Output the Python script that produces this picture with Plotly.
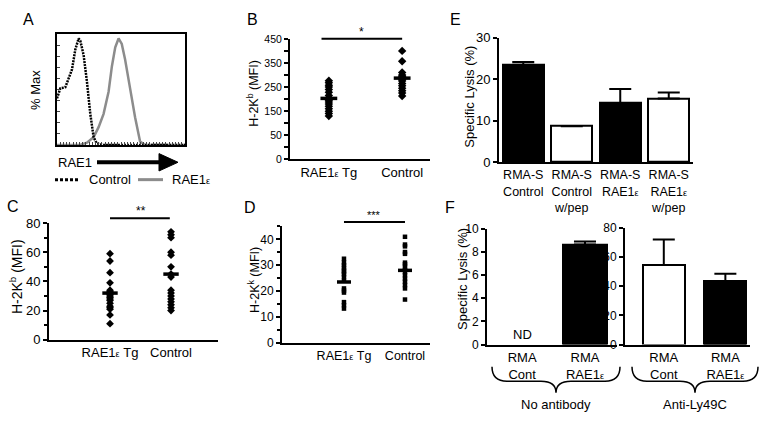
import plotly.graph_objects as go

W, H = 762, 423
FONT = "Liberation Sans, Arial, sans-serif"

# ---------------- data ----------------
# Panel A histogram (x = fraction of log-fluorescence range, y = % of max)
A_CONTROL_X = [0, 0.026, 0.065, 0.09, 0.117, 0.143, 0.169, 0.182, 0.195, 0.208, 0.234, 0.26, 0.286, 0.31, 0.36, 1.0]
A_CONTROL_Y = [0.42, 0.51, 0.52, 0.59, 0.68, 0.86, 0.96, 0.94, 0.88, 0.81, 0.57, 0.28, 0.07, 0.015, 0, 0]
A_RAE_X = [0, 0.18, 0.234, 0.286, 0.325, 0.364, 0.403, 0.429, 0.455, 0.481, 0.506, 0.532, 0.571, 0.61, 0.649, 0.688, 1.0]
A_RAE_Y = [0, 0, 0.02, 0.07, 0.16, 0.28, 0.48, 0.71, 0.88, 0.96, 0.91, 0.77, 0.51, 0.25, 0.03, 0, 0]

EPS = '<span style="font-size:9px">ε</span>'
GROUPS = ["RAE1" + EPS + " Tg", "Control"]

# Panel B  H-2Kb (MFI)
B_TG = [276, 268, 258, 250, 240, 228, 215, 205, 200, 195, 188, 180, 170, 160, 150, 140, 130]
B_CTRL = [400, 357, 310, 300, 295, 290, 285, 280, 275, 265, 255, 245, 235, 225, 213]
B_MEANS = [203, 287]
B_TICKVALS = [-50, 50, 150, 250, 350, 450]
B_TICKTEXT = ["0", "50", "150", "250", "350", "450"]
B_MINOR_TICKVALS = [0, 100, 200, 300, 400]

# Panel C  H-2Kb (MFI)
C_TG = [59, 54, 46, 39, 34, 33, 32, 31, 30, 29, 28, 27, 25, 23, 22, 21, 17, 11]
C_CTRL = [74, 72, 70, 60, 58, 50, 45, 43, 34, 32, 30, 28, 26, 24, 22, 20]
C_MEANS = [32, 45]

# Panel D  H-2Kk (MFI)
D_TG = [32.5, 31, 30, 29, 28, 27.4, 26.5, 25.4, 24, 21, 20.2, 19.4, 15.7, 14.5, 13.2]
D_CTRL = [41, 38, 37.3, 35.1, 34.4, 31, 30.4, 29.4, 28.2, 27.3, 26.1, 24.8, 23.6, 22.3, 21, 16.7]
D_MEANS = [23.5, 28]

# Panel E  Specific lysis (%)
E_LABELS = ["RMA-S<br>Control", "RMA-S<br>Control<br>w/pep",
            "RMA-S<br>RAE1" + EPS, "RMA-S<br>RAE1" + EPS + "<br>w/pep"]
E_VALUES = [23.5, 8.7, 14.3, 15.4]
E_ERR = [0.7, 0, 3.4, 1.4]
E_COLORS = ["black", "white", "black", "white"]

# Panel F  Specific lysis (%)
F_LABELS = ["RMA<br>Cont", "RMA<br>RAE1" + EPS]
F_LEFT_VALUES = [None, 8.65]
F_LEFT_ERR = [0, 0.25]
F_LEFT_COLORS = ["white", "black"]
F_RIGHT_VALUES = [54.5, 43.5]
F_RIGHT_ERR = [17.5, 5]
F_RIGHT_COLORS = ["white", "black"]


# ---------------- helpers ----------------
def px(x):
    return x / W


def py(y):
    return 1 - y / H


def xdom(a, b):
    return [px(a), px(b)]


def ydom(top, bottom):
    return [py(bottom), py(top)]


fig = go.Figure()

# ---- A ----
fig.add_trace(go.Scatter(x=A_RAE_X, y=A_RAE_Y, mode="lines", line=dict(color="#8c8c8c", width=2.5),
                         xaxis="x", yaxis="y", showlegend=False))
fig.add_trace(go.Scatter(x=A_CONTROL_X, y=A_CONTROL_Y, mode="lines",
                         line=dict(color="black", width=2.5, dash="2px,1px"),
                         xaxis="x", yaxis="y", showlegend=False))


def dots(xs_vals, ax, ay, symbol, size):
    for i, vals in enumerate(xs_vals):
        fig.add_trace(go.Scatter(x=[i] * len(vals), y=vals, mode="markers",
                                 marker=dict(symbol=symbol, size=size, color="black"),
                                 xaxis=ax, yaxis=ay, showlegend=False, cliponaxis=False))


def means(vals, ax, ay, size):
    fig.add_trace(go.Scatter(x=list(range(len(vals))), y=vals, mode="markers",
                             marker=dict(symbol="line-ew", size=size, line=dict(color="black", width=3.5)),
                             xaxis=ax, yaxis=ay, showlegend=False, cliponaxis=False))


# ---- B ----
dots([B_TG, B_CTRL], "x2", "y2", "diamond", 6.5)
means(B_MEANS, "x2", "y2", 12)
# ---- C ----
dots([C_TG, C_CTRL], "x3", "y3", "diamond", 6)
means(C_MEANS, "x3", "y3", 11)
# ---- D ----
dots([D_TG, D_CTRL], "x4", "y4", "square", 4.5)
means(D_MEANS, "x4", "y4", 10)

# ---- E ----
fig.add_trace(go.Bar(x=list(range(4)), y=E_VALUES, width=0.85,
                     marker=dict(color=E_COLORS, line=dict(color="black", width=2)),
                     error_y=dict(type="data", symmetric=False, array=E_ERR, arrayminus=[0] * 4,
                                  color="black", thickness=2, width=11),
                     xaxis="x5", yaxis="y5", showlegend=False))
# ---- F ----
fig.add_trace(go.Bar(x=[0, 1], y=F_LEFT_VALUES, width=0.7,
                     marker=dict(color=F_LEFT_COLORS, line=dict(color="black", width=2)),
                     error_y=dict(type="data", symmetric=False, array=F_LEFT_ERR, arrayminus=[0, 0],
                                  color="black", thickness=2, width=11),
                     xaxis="x6", yaxis="y6", showlegend=False))
fig.add_trace(go.Bar(x=[0, 1], y=F_RIGHT_VALUES, width=0.68,
                     marker=dict(color=F_RIGHT_COLORS, line=dict(color="black", width=2)),
                     error_y=dict(type="data", symmetric=False, array=F_RIGHT_ERR, arrayminus=[0, 0],
                                  color="black", thickness=2, width=11),
                     xaxis="x7", yaxis="y7", showlegend=False))

axis_common = dict(showgrid=False, zeroline=False, showline=True, linecolor="black", linewidth=2)


def yax(dom, rng, anchor, size=13, **kw):
    d = dict(axis_common, domain=dom, range=rng, anchor=anchor, ticks="outside", ticklen=4,
             tickwidth=1.5, tickcolor="black", tickfont=dict(size=size, color="black"))
    d.update(kw)
    return d


def xax(dom, rng, anchor, labels, size=13, **kw):
    d = dict(axis_common, domain=dom, range=rng, anchor=anchor, ticks="",
             tickmode="array", tickvals=list(range(len(labels))), ticktext=labels,
             tickfont=dict(size=size, color="black"))
    d.update(kw)
    return d


layout = dict(
    width=W, height=H, margin=dict(l=0, r=0, t=0, b=0),
    paper_bgcolor="white", plot_bgcolor="white",
    font=dict(family=FONT, color="black", size=13),
    bargap=0,
    # A
    xaxis=dict(axis_common, domain=xdom(57, 185), range=[0, 1], anchor="y", mirror=True, linewidth=1.8,
               ticks="inside", ticklen=3, tickwidth=1, dtick=0.025, showticklabels=False),
    yaxis=dict(axis_common, domain=ydom(28, 143), range=[0, 1], anchor="x", mirror=True, linewidth=1.8,
               ticks="inside", ticklen=3, tickwidth=1, dtick=0.1, showticklabels=False),
    # B
    xaxis2=xax(xdom(290, 430), [-0.53, 1.38], "y2", GROUPS),
    yaxis2=yax(ydom(33, 158), [-50, 450], "x2", size=10.5, tickmode="array",
               tickvals=B_TICKVALS, ticktext=B_TICKTEXT,
               minor=dict(ticks="outside", tickmode="array", tickvals=B_MINOR_TICKVALS,
                          ticklen=4, tickwidth=1.5, tickcolor="black")),
    # C
    xaxis3=xax(xdom(49, 218), [-1.0, 1.77], "y3", GROUPS),
    yaxis3=yax(ydom(224, 345), [0, 80], "x3", dtick=20,
               minor=dict(ticks="outside", dtick=10, ticklen=3, tickcolor="black")),
    # D
    xaxis4=xax(xdom(282, 430), [-1.016, 1.41], "y4", GROUPS, size=12.5),
    yaxis4=yax(ydom(227, 348), [0, 45.2], "x4", size=12, dtick=10,
               minor=dict(ticks="outside", dtick=5, ticklen=3, tickcolor="black")),
    # E
    xaxis5=xax(xdom(499, 693), [-0.5, 3.5], "y5", E_LABELS, size=12.5),
    yaxis5=yax(ydom(32, 161), [0, 30], "x5", dtick=10),
    # F left
    xaxis6=xax(xdom(487, 617), [-0.56, 1.51], "y6", F_LABELS),
    yaxis6=yax(ydom(230, 350), [0, 10], "x6", size=12, dtick=2),
    # F right
    xaxis7=xax(xdom(625, 750), [-0.63, 1.4], "y7", F_LABELS),
    yaxis7=yax(ydom(229, 350), [0, 80], "x7", size=12, dtick=20),
)
fig.update_layout(**layout)

ann = []


def text(x, y, s, size=13, angle=0, xanchor="center", xref="paper", xv=None):
    ann.append(dict(x=(px(x) if xv is None else xv), y=py(y), xref=xref, yref="paper", text=s,
                    showarrow=False, textangle=angle, xanchor=xanchor, yanchor="middle",
                    font=dict(size=size, color="black", family=FONT)))


# panel letters
text(28, 13, "A", 16)
text(252, 13, "B", 16)
text(455, 13, "E", 16)
text(13, 207, "C", 16)
text(250, 208, "D", 16)
text(450, 208, "F", 16)

# axis titles
text(36, 86, "% Max", 13, -90)
text(253, 90, "H-2K<sup>b</sup> (MFI)", 12.5, -90)
text(16, 280, "H-2K<sup>b</sup> (MFI)", 14, -90)
text(254, 283, "H-2K<sup>k</sup> (MFI)", 12.5, -90)
text(470, 93, "Specific Lysis (%)", 13, -90)
text(462, 282, "Specific Lysis (%)", 13, -90)

# panel A annotations
text(75, 161, "RAE1", 13)
text(87, 179, "Control", 13, xanchor="left")
text(170, 179, "RAE1" + EPS, 13, xanchor="left")

# significance stars
text(0, 26, "*", 12, xref="x2", xv=0.45)
text(0, 212, "**", 12, xref="x3", xv=0.5)
text(0, 216, "***", 11, xref="x4", xv=0.5)

# ND
text(0, 340, "ND", 13, xref="x6", xv=0)

# brace labels
text(556, 412, "No antibody", 13)
text(695, 412, "Anti-Ly49C", 13)

fig.update_layout(annotations=ann)

shapes = []


def path_px(pts_cmds, width=1.5, fill=None):
    return dict(type="path", xref="paper", yref="paper", path=pts_cmds,
                line=dict(color="black", width=width),
                fillcolor=fill if fill else "rgba(0,0,0,0)")


def P(x, y):
    return f"{px(x):.5f},{py(y):.5f}"


def brace(x0, x1, yt, ym, yb):
    xc = (x0 + x1) / 2
    r = 15
    return (f"M {P(x0, yt)} Q {P(x0, ym)} {P(x0 + r, ym)} L {P(xc - r, ym)} "
            f"Q {P(xc, ym)} {P(xc, yb)} Q {P(xc, ym)} {P(xc + r, ym)} "
            f"L {P(x1 - r, ym)} Q {P(x1, ym)} {P(x1, yt)}")


shapes.append(path_px(brace(492, 620, 373, 388, 400)))
shapes.append(path_px(brace(632, 758, 373, 388, 400)))

# arrow in A
shapes.append(dict(type="line", xref="paper", yref="paper", x0=px(97), x1=px(162), y0=py(161), y1=py(161),
                   line=dict(color="black", width=4)))
shapes.append(path_px(f"M {P(159, 152)} L {P(178, 161)} L {P(159, 170)} Z", width=1, fill="black"))
# legend lines in A
shapes.append(dict(type="line", xref="paper", yref="paper", x0=px(55), x1=px(80), y0=py(179), y1=py(179),
                   line=dict(color="black", width=3, dash="3px,2px")))
shapes.append(dict(type="line", xref="paper", yref="paper", x0=px(138), x1=px(163), y0=py(179), y1=py(179),
                   line=dict(color="#8c8c8c", width=3)))

# significance bars
shapes.append(dict(type="line", xref="x2", yref="paper", x0=-0.1, x1=1.0, y0=py(33), y1=py(33),
                   line=dict(color="black", width=2)))
shapes.append(dict(type="line", xref="x3", yref="paper", x0=0, x1=0.98, y0=py(219), y1=py(219),
                   line=dict(color="black", width=2)))
shapes.append(dict(type="line", xref="x4", yref="paper", x0=0, x1=1.0, y0=py(223), y1=py(223),
                   line=dict(color="black", width=2)))

fig.update_layout(shapes=shapes)

fig.write_html("out.html", config={"displayModeBar": False},
               post_script="document.body.style.margin='0px';")
